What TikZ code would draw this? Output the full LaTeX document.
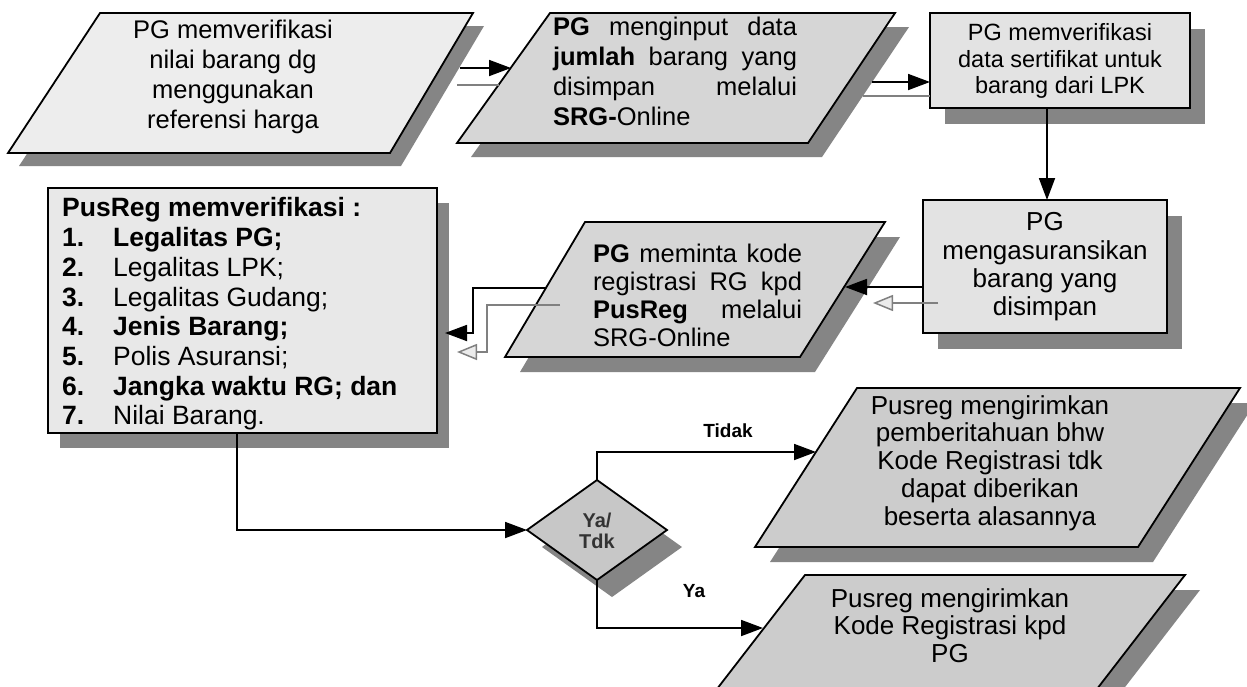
\documentclass[tikz,border=0pt]{standalone}
\usepackage{fontspec}
\setmainfont{Liberation Sans}
\usetikzlibrary{arrows.meta}

\begin{document}
\begin{tikzpicture}[x=1pt,y=-1pt,
  box/.style={draw=black, line width=1.8pt, line join=miter},
  dropsh/.style={fill=black!48},
  flow/.style={draw=black, line width=1.8pt, -{Triangle[length=22pt,width=16pt]}},
  echo/.style={draw=black!50, line width=1.5pt},
  echotip/.style={echo, -{Triangle[length=20pt,width=16pt,fill=black!8]}},
  lbl/.style={inner sep=0pt, align=center},
  fbig/.style={font=\fontsize{25.5}{30}\selectfont},
  fsmall/.style={font=\bfseries\fontsize{19}{21}\selectfont},
]
\useasboundingbox (0,0) rectangle (1247,686);
\clip (0,0) rectangle (1247,686);
\fill[white] (0,0) rectangle (1247,686);

% ---- first row -------------------------------------------------------
% input: verify value of goods
\fill[dropsh, shift={(11,13)}] (100,13) -- (473,13) -- (390,153) -- (8,153) -- cycle;
\draw[box, fill=black!7] (100,13) -- (473,13) -- (390,153) -- (8,153) -- cycle;
\node[lbl, fbig] (t1) at (233,77) {PG memverifikasi\\nilai barang dg\\menggunakan\\referensi harga};

% input: amount of stored goods
\fill[dropsh, shift={(14,14)}] (550,13) -- (895,13) -- (808,143) -- (457,143) -- cycle;
\draw[box, fill=black!16] (550,13) -- (895,13) -- (808,143) -- (457,143) -- cycle;
\node[lbl, fbig, text width=244pt, align=left] (t2) at (675,71.5)
  {\textbf{PG}\hfill menginput\hfill data\\
   \textbf{jumlah}\hfill barang\hfill yang\\
   disimpan\hfill melalui\\
   \textbf{SRG-}Online};

% process: certificate check
\fill[dropsh, shift={(15,16)}] (930,13) rectangle (1190,108);
\draw[box, fill=black!11] (930,13) rectangle (1190,108);
\node[lbl, font=\fontsize{23.5}{26.5}\selectfont] (t3) at (1060,61)
  {PG memverifikasi\\data sertifikat untuk\\barang dari LPK};

% ---- second row ------------------------------------------------------
% process: insurance
\fill[dropsh, shift={(15,16)}] (923,200) rectangle (1167,333);
\draw[box, fill=black!11] (923,200) rectangle (1167,333);
\node[lbl, font=\fontsize{26}{28.3}\selectfont] (t4) at (1045,267)
  {PG\\mengasuransikan\\barang yang\\disimpan};

% input: request registration code
\fill[dropsh, shift={(15,15)}] (585,222) -- (885,222) -- (800,357) -- (505,357) -- cycle;
\draw[box, fill=black!16] (585,222) -- (885,222) -- (800,357) -- (505,357) -- cycle;
\node[lbl, text width=209pt, align=left, font=\fontsize{25.5}{28}\selectfont] (t5) at (697.5,295)
  {\textbf{PG}\hfill meminta\hfill kode\\
   registrasi\hfill RG\hfill kpd\\
   \textbf{PusReg}\hfill melalui\\
   SRG-Online};

% process: PusReg checklist
\fill[dropsh, shift={(12,15)}] (48,188) rectangle (437,433);
\draw[box, fill=black!9] (48,188) rectangle (437,433);
\node[lbl, anchor=west, align=left, font=\fontsize{26.5}{29.7}\selectfont] (t6) at (62,314)
  {\textbf{PusReg memverifikasi :}\\
   \makebox[51pt][l]{\textbf{1.}}\textbf{Legalitas PG;}\\
   \makebox[51pt][l]{\textbf{2.}}Legalitas LPK;\\
   \makebox[51pt][l]{\textbf{3.}}Legalitas Gudang;\\
   \makebox[51pt][l]{\textbf{4.}}\textbf{Jenis Barang;}\\
   \makebox[51pt][l]{\textbf{5.}}Polis Asuransi;\\
   \makebox[51pt][l]{\textbf{6.}}\textbf{Jangka waktu RG; dan}\\
   \makebox[51pt][l]{\textbf{7.}}Nilai Barang.};

% ---- decision and outcomes -------------------------------------------
\fill[dropsh, shift={(15,17)}] (527,530) -- (597,480) -- (667,530) -- (597,580) -- cycle;
\draw[box, fill=black!22] (527,530) -- (597,480) -- (667,530) -- (597,580) -- cycle;
\node[lbl, font=\bfseries\fontsize{20}{21}\selectfont, text=black!80] (td) at (597,531) {Ya/\\Tdk};

% output: rejection notice
\fill[dropsh, shift={(15,15)}] (857,388) -- (1240,388) -- (1138,547) -- (755,547) -- cycle;
\draw[box, fill=black!20] (857,388) -- (1240,388) -- (1138,547) -- (755,547) -- cycle;
\node[lbl, font=\fontsize{26}{27.8}\selectfont] (t7) at (990,463)
  {Pusreg mengirimkan\\pemberitahuan bhw\\Kode Registrasi tdk\\dapat diberikan\\beserta alasannya};

% output: registration code sent
\fill[dropsh, shift={(15,15)}] (805,575) -- (1185,575) -- (1073,720) -- (693,720) -- cycle;
\draw[box, fill=black!20] (805,575) -- (1185,575) -- (1073,720) -- (693,720) -- cycle;
\node[lbl, font=\fontsize{26}{27.5}\selectfont] (t8) at (950,625.5)
  {Pusreg mengirimkan\\Kode Registrasi kpd\\PG};

% ---- connector end points ----------------------------------------------
\coordinate (a1s) at (460,68);   \coordinate (a1e) at (511,68);
\coordinate (g1s) at (457,85);   \coordinate (g1e) at (499,85);
\coordinate (a2s) at (872,82);   \coordinate (a2e) at (930,82);
\coordinate (g2s) at (863,96);   \coordinate (g2e) at (930,96);
\coordinate (a3s) at (1047,108); \coordinate (a3e) at (1047,200);
\coordinate (a4s) at (923,287);  \coordinate (a4e) at (845,287);
\coordinate (g4s) at (938,303);  \coordinate (g4e) at (873,303);
\coordinate (a5s) at (546,288);  \coordinate (a5k) at (473,288);
\coordinate (a5e) at (445,333);
\coordinate (g5s) at (560,305);  \coordinate (g5k) at (487,305);
\coordinate (g5e) at (457,352);
\coordinate (a6s) at (237,433);  \coordinate (dW) at (527,530);
\coordinate (dN) at (597,480);   \coordinate (dS) at (597,580);
\coordinate (b7in) at (816,452); \coordinate (b8in) at (763,628);

% ---- connectors -------------------------------------------------------
\draw[flow] (a1s) -- (a1e);
\draw[echo] (g1s) -- (g1e);
\draw[flow] (a2s) -- (a2e);
\draw[echo] (g2s) -- (g2e);
\draw[flow] (a3s) -- (a3e);
\draw[flow] (a4s) -- (a4e);
\draw[echotip] (g4s) -- (g4e);
\draw[flow] (a5s) -- (a5k) |- (a5e);
\draw[echotip] (g5s) -- (g5k) |- (g5e);
\draw[flow] (a6s) |- (dW);
\draw[flow] (dN) |- (b7in);
\draw[flow] (dS) |- (b8in);

\node[lbl, fsmall] (ltidak) at (728,431) {Tidak};
\node[lbl, fsmall] (lya) at (694,591) {Ya};
\end{tikzpicture}
\end{document}
